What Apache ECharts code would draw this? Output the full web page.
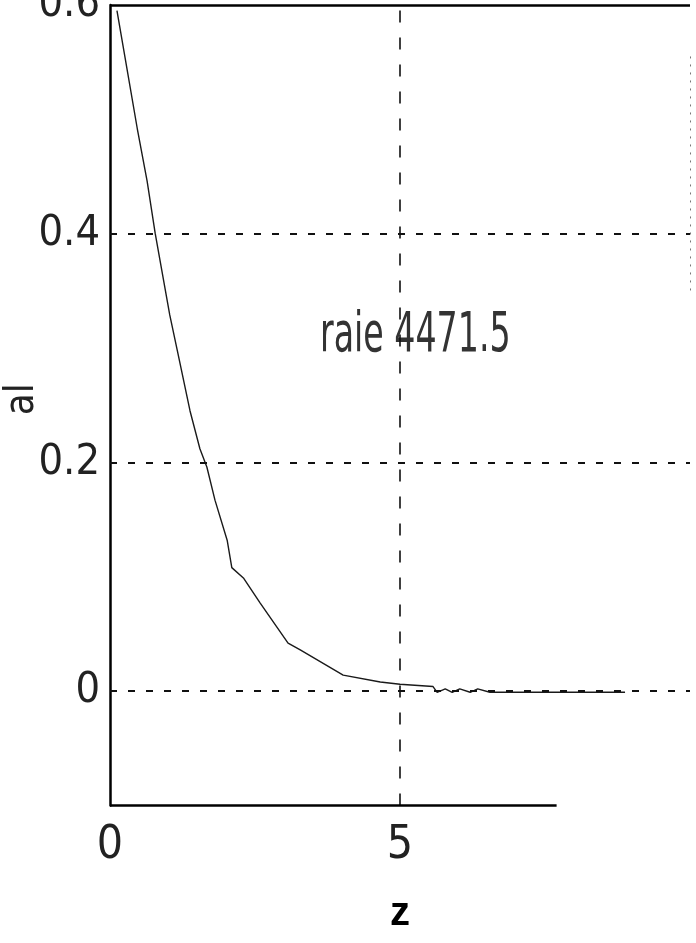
<!DOCTYPE html>
<html>
<head>
<meta charset="utf-8">
<script src="https://cdn.jsdelivr.net/npm/echarts@6/dist/echarts.min.js"></script>
<style>
  html, body { margin: 0; padding: 0; background: #fff; }
  #chart { width: 696px; height: 943px; }
</style>
</head>
<body>
<div id="chart"></div>
<script>
// Absorption profile of the 4471.5 line versus depth z
const zValues = [0.12, 0.29, 0.47, 0.64, 0.78, 1.03, 1.16, 1.38, 1.55, 1.67, 1.81, 2.02, 2.10, 2.30, 2.59, 3.07, 3.28, 4.02, 4.66, 5.00, 5.57, 5.64, 5.78, 5.90, 6.03, 6.21, 6.34, 6.55, 7.59, 8.88];
const alValues = [0.595, 0.545, 0.492, 0.446, 0.400, 0.329, 0.298, 0.245, 0.212, 0.196, 0.167, 0.132, 0.108, 0.099, 0.077, 0.042, 0.036, 0.014, 0.008, 0.006, 0.004, -0.001, 0.002, -0.001, 0.002, -0.001, 0.002, -0.001, -0.001, -0.001];

// Axis ticks and reference lines
const yTickLabels = [0, 0.2, 0.4, 0.6];
const xTickLabels = [0, 5];
const yGridLines = [0, 0.2, 0.4];
const xGridLines = [5];

const xMin = 0, xMax = 10, yMin = -0.1, yMax = 0.6;
const lineName = 'raie 4471.5';

const narrow = "'Liberation Sans Narrow', 'DejaVu Sans Condensed', 'Arial Narrow', 'Liberation Sans', sans-serif";

const chart = echarts.init(document.getElementById('chart'));

const gridMarks = [];
yGridLines.forEach(v => gridMarks.push([
  { coord: [xMin, v], lineStyle: { type: [7, 11], width: 2, color: '#111' } },
  { coord: [xMax, v] }
]));
xGridLines.forEach(v => gridMarks.push([
  { coord: [v, yMin], lineStyle: { type: [12, 15], width: 1.6, color: '#111' } },
  { coord: [v, yMax] }
]));
// frame: top edge, shortened bottom edge, faint right edge
gridMarks.push([
  { coord: [xMin, yMax], lineStyle: { type: 'solid', width: 2.5, color: '#000' } },
  { coord: [xMax, yMax] }
]);
gridMarks.push([
  { coord: [xMin, yMin], lineStyle: { type: 'solid', width: 2.5, color: '#000' } },
  { coord: [7.7, yMin] }
]);
gridMarks.push([
  { coord: [xMax, 0.555], lineStyle: { type: [2, 6], width: 1, color: '#777' } },
  { coord: [xMax, 0.35] }
]);

chart.setOption({
  animation: false,
  backgroundColor: '#fff',
  grid: { left: 110, right: 6, top: 5, bottom: 137.5, containLabel: false, outerBoundsMode: 'none' },
  xAxis: {
    type: 'value', min: xMin, max: xMax, interval: 5,
    name: 'z', nameLocation: 'middle', nameGap: 88,
    nameTextStyle: { fontSize: 40, fontWeight: 'bold', color: '#000', fontFamily: "'Liberation Sans', Arial, sans-serif" },
    axisLine: { show: false },
    axisTick: { show: false },
    splitLine: { show: false },
    axisLabel: {
      margin: 18, fontSize: 46, color: '#222', fontFamily: narrow,
      formatter: v => xTickLabels.includes(v) ? String(v) : ''
    }
  },
  yAxis: {
    type: 'value', min: yMin, max: yMax, interval: 0.1,
    name: 'al', nameLocation: 'middle', nameGap: 67, nameRotate: 90, nameMoveOverlap: false,
    nameTextStyle: { fontSize: 40, color: '#222', fontFamily: narrow, padding: [0, 0, 0, 12] },
    axisLine: { show: true, lineStyle: { color: '#000', width: 2.5 } },
    axisTick: { show: false },
    splitLine: { show: false },
    axisLabel: {
      margin: 10, fontSize: 43, color: '#222', fontFamily: narrow,
      formatter: v => {
        const r = Math.round(v * 10) / 10;
        return yTickLabels.includes(r) ? String(r) : '';
      }
    }
  },
  graphic: [{
    type: 'text', left: 320, top: 308, scaleX: 0.66,
    style: { text: lineName, fontSize: 56, fill: '#333', fontFamily: narrow }
  }],
  series: [{
    type: 'line',
    data: zValues.map((z, i) => [z, alValues[i]]),
    showSymbol: false,
    lineStyle: { color: '#1a1a1a', width: 1.4 },
    markLine: {
      silent: true, symbol: 'none', label: { show: false },
      data: gridMarks
    }
  }]
});
</script>
</body>
</html>
